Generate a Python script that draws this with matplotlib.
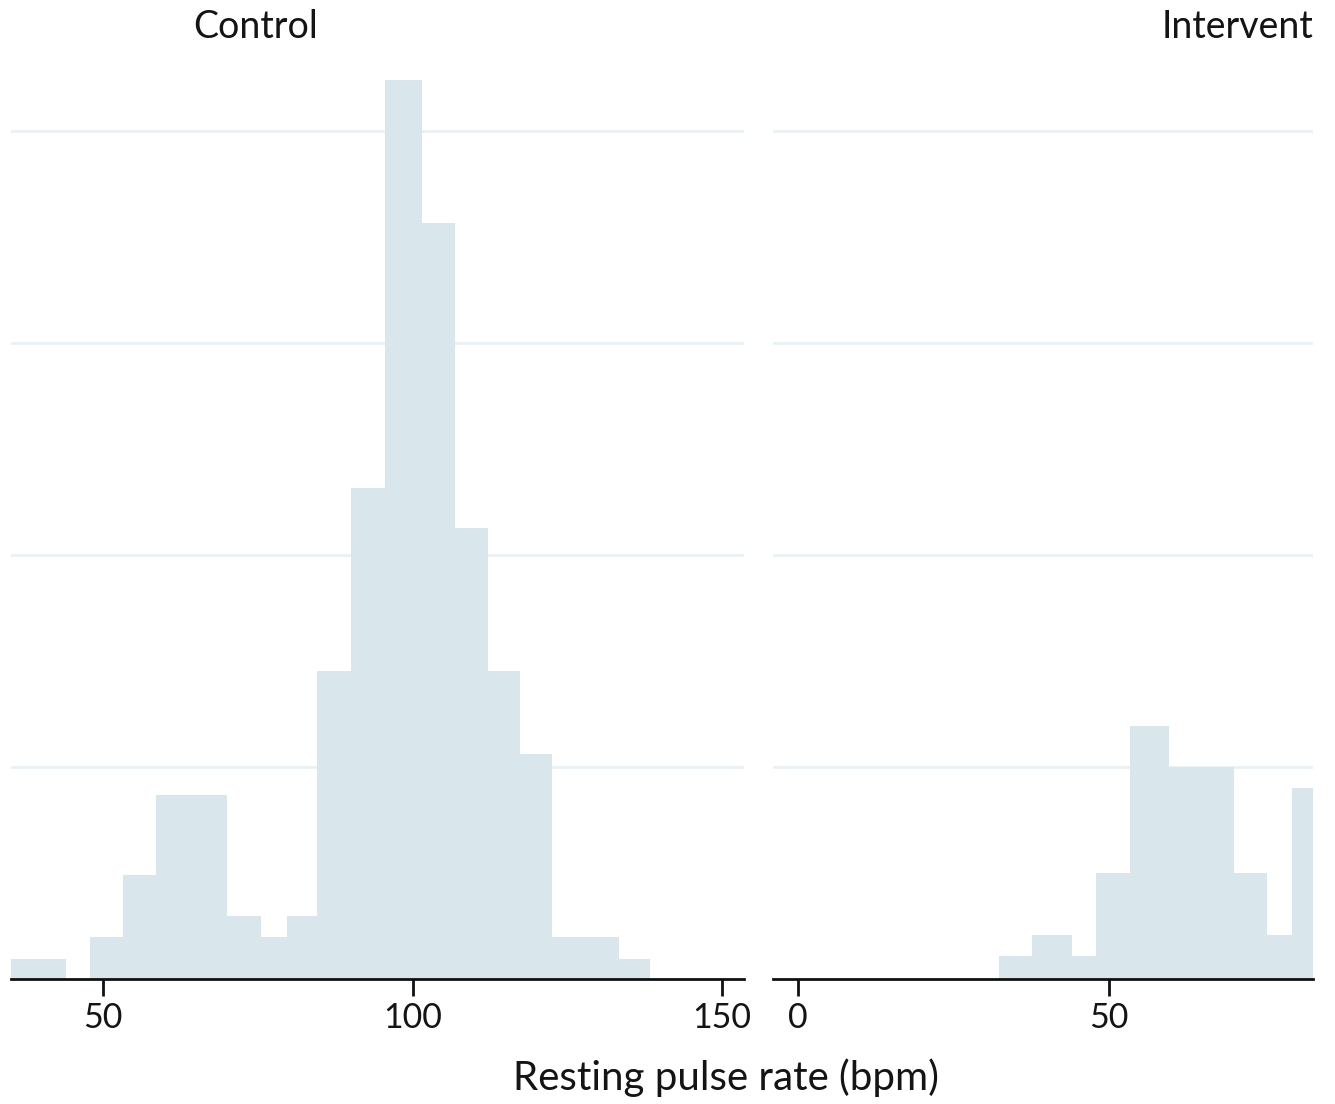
import numpy as np
import matplotlib
matplotlib.use("Agg")
from matplotlib import pyplot as plt

plt.rcParams['font.family'] = ['Lato', 'DejaVu Sans']

# bin edges and densities
control_edges = [35.1, 44.0, 47.9, 53.2, 58.6, 70.0, 75.5, 79.7, 84.6, 90.0,
                 95.5, 101.5, 106.8, 112.2, 117.3, 122.6, 133.3, 138.3]
control_density = [0.00093, 0.0, 0.00196, 0.00489, 0.00866, 0.00297, 0.00196,
                   0.00297, 0.01452, 0.02316, 0.04242, 0.03568, 0.02127,
                   0.01452, 0.01060, 0.00196, 0.00093]

interv_edges = [32.3, 37.6, 44.1, 47.9, 53.3, 59.7, 70.1, 75.4, 79.5, 84.6]
interv_density = [0.00105, 0.00205, 0.00105, 0.00498, 0.01192, 0.00997,
                  0.00498, 0.00205, 0.00901]

panel_titles = ['Control', 'Intervent']
xlabel = 'Resting pulse rate (bpm)'
grid_vals = [0.01, 0.02, 0.03, 0.04]

bar_color = '#d9e6ec'
grid_color = '#e9f1f4'
text_color = '#141414'

W, H = 1335, 1104
fig = plt.figure(figsize=(W / 100, H / 100), dpi=100)

bottom = (H - 978.5) / H
top_px = 60
height = (978.5 - top_px) / H
ymax = (978.5 - top_px) / 211.8 * 0.01

ax1 = fig.add_axes([11 / W, bottom, (744.3 - 11) / W, height])
ax2 = fig.add_axes([773.2 / W, bottom, (1313 - 773.2) / W, height])

panels = [
    (ax1, control_edges, control_density, (35.1, 153.6), [50, 100, 150]),
    (ax2, interv_edges, interv_density, (-4.0, 82.8), [0, 50]),
]

for ax, edges, dens, xl, ticks in panels:
    for g in grid_vals:
        ax.axhline(g, color=grid_color, lw=2, zorder=1)
    ax.stairs(dens, edges, fill=True, color=bar_color, zorder=2)
    ax.set_xlim(*xl)
    ax.set_ylim(0, ymax)
    ax.set_xticks(ticks)
    ax.set_xticklabels([str(t) for t in ticks])
    ax.set_yticks([])
    for s in ['left', 'right', 'top']:
        ax.spines[s].set_visible(False)
    ax.spines['bottom'].set_linewidth(2)
    ax.spines['bottom'].set_color('#111111')
    ax.spines['bottom'].set_zorder(3)
    ax.tick_params(axis='x', length=12, width=2, color='#111111',
                   labelsize=24.5, labelcolor=text_color, pad=5)
    ax.patch.set_alpha(0)

fig.text(256 / W, 1 - 27 / H, panel_titles[0], ha='center', va='center',
         fontsize=27, color=text_color)
fig.text(1313 / W, 1 - 27 / H, panel_titles[1], ha='right', va='center',
         fontsize=27, color=text_color)
fig.text(726 / W, 1 - 1078 / H, xlabel, ha='center', va='center',
         fontsize=29, color=text_color)

fig.savefig('out.png', dpi=100)
